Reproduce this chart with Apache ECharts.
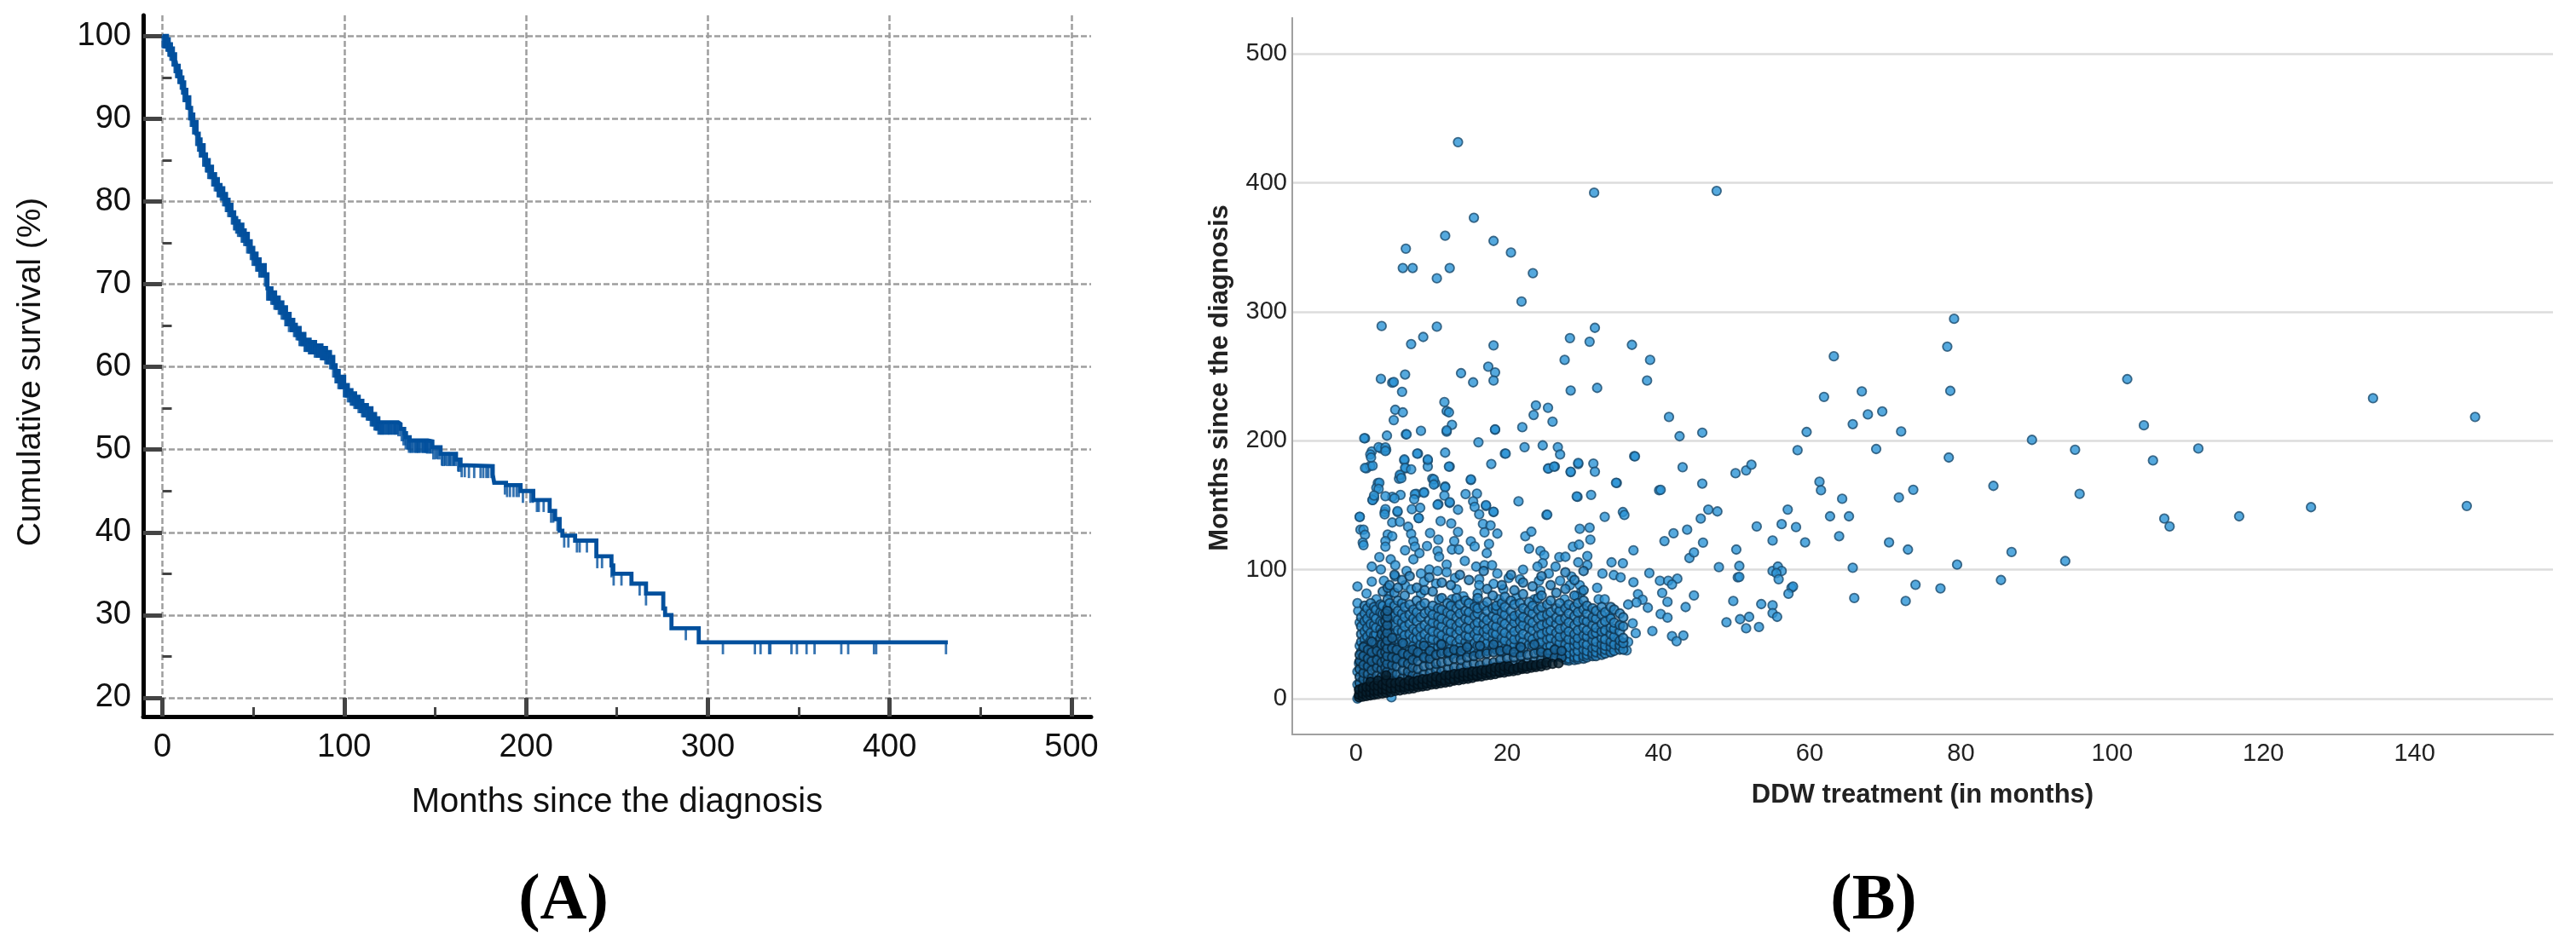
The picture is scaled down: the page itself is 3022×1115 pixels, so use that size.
<!DOCTYPE html>
<html><head><meta charset="utf-8">
<script src="https://cdn.jsdelivr.net/npm/echarts@6/dist/echarts.min.js"></script>
<style>html,body{margin:0;padding:0;background:#fff}#c{width:3022px;height:1115px}</style></head>
<body><div id="c"></div>
<script>
const kmMonths=[0,2.5,3.5,4.7,5.8,7,7.8,9,10,11,12,13.2,14.8,15.8,17,18.8,20,21,22.7,24,25.5,27.3,29,30.5,32,33.5,35,36.4,38,39.5,40.6,42,44,45.3,47,48.6,50,51.8,53.5,56.3,57.8,60,62,64,66,68,70,72,73.4,75.5,78.1,81,84,87.5,90,92.2,94,95.3,97,100,102,104,106,108,110,112.5,115,117,118.8,129.7,131,133,134,136,146,148.5,153,161.5,164,167.5,181.7,182.5,189,197,204,213,216,218.5,220,227,238.7,247,248,258,266,275.5,276.5,280,295,432];
const kmSurvival=[100,99.6,99,98.5,97.8,97,96.4,95.7,95,94.4,93.5,92.6,91.3,90.5,89.6,88.2,87.5,86.8,85.7,85,84.2,83.3,82.7,82,81.6,80.9,80.2,79.6,78.7,78,77.6,77.2,76.5,76.1,75.2,74.4,73.7,73,72.3,71.2,69.5,69,68.4,67.8,67.2,66.4,65.7,65.1,64.7,64,63.3,63,62.6,62.3,61.8,61.2,60.2,59.5,58.8,57.8,57.2,56.8,56.4,55.9,55.4,55,54.3,53.8,53.3,53.1,52.5,52,51.5,51.1,51,50.3,49.5,48.8,48.1,48,47,46,45.7,45,43.9,42.6,41.6,40.2,39.6,39,37.1,36,35,33.8,32.6,30.8,30,28.4,26.7,26.7];
const censorMonths=[147.3,150.8,153.7,155.6,158,160.3,162.7,164.6,166.3,168.6,171.5,175,176.5,178.2,179.3,181,188.4,189.6,191.2,193.1,194.8,196,198.3,202.4,203.8,206,207,209.7,213.8,215,217.3,221,223.3,228,229.5,233.5,239.2,241.8,247,248.2,252.5,262.5,266,287.9,308.3,325.9,329,333.7,334.4,346,349,354.3,358.7,373.4,377.2,391.4,392.6,431];
const censorMonthsCrowded=[0.5,1,1.4,1.8,2.2,2.6,3,3.3,3.7,4,4.4,4.8,5.3,5.6,6,6.2,6.7,7.1,7.4,7.9,8.3,8.7,9.2,9.4,9.9,10.5,10.8,11.2,11.6,12,12.4,12.9,13.6,13.9,14.3,14.7,15.1,15.5,16,16.4,16.9,17.3,17.6,18.2,18.7,19,19.4,20,20.5,21,21.3,21.7,22.2,22.9,23,23.8,24.3,24.7,25,25.6,26.2,26.8,27.2,27.8,28.2,28.6,29.2,29.9,30.3,30.8,31,31.7,32.5,33,33.8,34.4,34.9,35.3,35.7,36,36.6,37.2,37.8,38.6,39,39.9,40,41,41.5,42,42.8,43.4,44,44.5,45.4,46,46.6,47,47.6,48.2,49,49.7,50,50.7,51.4,52,52.4,53.1,53.7,54,55.2,55.8,56.2,56.8,57.4,58,58.5,59,59.6,60.3,61,61.6,62,62.6,63,63.8,64.4,65,65.6,66,66.8,67.4,68,68.4,69,69.6,70,71,71.2,71.8,72.8,73.3,74.2,74.8,75.2,75.8,76.4,77,77.6,78,78.6,79,79.8,80.4,81,81.4,82,82.6,83,83.8,84.2,85,85.6,86,86.8,87.5,88,88.2,89,89.4,90,90.6,91,91.6,92.6,93.2,93.8,94.3,95,95.6,96,96.6,97.2,97.8,98.4,99,99.6,100.2,100.8,101.2,101.8,102.4,103.2,104,104.6,105.4,106,106.6,107,107.6,108.3,109,109.6,110.2,110.8,111,112.2,112.8,113.2,113.8,114.6,115,115.4,116.2,117,117.6,118,118.6,119.2,119.8,120.8,121.4,122,123.4,124,125,125.6,126.8,127.6,128.4,129,130.2,132,133,134.2,135.2,136,137,138.4,139.6,140.4,141,142.4,143.6,144,145,145.6,146,148,149.4,152,154.6,157,159,161,163.4];
const survivalXTicks=[0,100,200,300,400,500];
const survivalXMinor=[50,150,250,350,450];
const survivalYTicks=[20,30,40,50,60,70,80,90,100];
const survivalYMinor=[25,35,45,55,65,75,85,95];
const ddwXTicks=[0,20,40,60,80,100,120,140];
const ddwYTicks=[0,100,200,300,400,500];
// Sparse points read one at a time: [DDW months, months since diagnosis]
const sparsePoints=[[13.5,431.6],[31.5,392.4],[47.7,393.8],[15.6,373],[11.8,359],[18.2,355],[20.5,346],[6.6,349],[6.2,334],[7.5,334],[12.4,334],[10.7,326],[23.4,330],[21.9,308],[3.4,289],[10.7,288.5],[8.9,280.5],[7.3,275],[18.2,274],[28.3,279.6],[31.6,287.6],[30.9,276.8],[36.5,274.4],[38.9,262.7],[27.6,262.7],[38.5,246.7],[31.9,241],[28.4,239],[17.5,257.5],[18.4,253],[18.2,246.7],[13.9,252.4],[15.5,245.3],[6.5,251.4],[3.3,248],[4.8,245],[5,245.6],[6.1,238],[11.7,230],[12,223],[12.3,222],[5.2,224],[6.2,222],[5,216],[12.7,212.4],[12,207],[23.8,227.4],[25.4,225.6],[23.5,220],[26,214.8],[22,210.5],[18.4,208.6],[8.6,207.7],[6.6,205],[1.2,202],[16.2,198.8],[22.3,195],[24.7,196.4],[26.7,195],[3.3,194],[2.1,191.7],[1.9,189.4],[4,193],[8.2,190],[11.8,190.8],[19.7,190],[27,189.4],[36.8,188],[9.5,184.7],[9.5,180],[6.4,184.7],[6.6,178.6],[17.9,182],[12.4,180],[1.4,178.6],[1.9,180.4],[26.3,180],[25.5,178.6],[31.4,182.3],[31.6,176],[29.4,182],[28.4,175.7],[43.2,179.5],[5.9,173],[5.7,170.6],[10.1,170.6],[10.5,167],[15.2,169.6],[34.5,167.3],[45.8,166.8],[40.1,161.6],[40.3,161.9],[2.9,167.3],[2.7,163.5],[11.8,164.5],[8,158.8],[9,160.2],[2.4,155.5],[2.2,154],[4.8,156.5],[5.9,158],[21.5,153],[29.3,156.5],[31.1,158],[12.4,151.8],[10.9,150.8],[17.2,149.4],[18.2,144.7],[25.2,142.4],[35.3,144.7],[35.5,142.4],[32.9,141],[45.6,139.6],[46.6,146.6],[47.8,145.2],[0.5,141],[3.8,144.7],[5.5,144.7],[8.3,140],
[50.2,174.8],[51.6,177],[52.3,181.4],[45.8,206.3],[42.8,203.5],[41.4,218.5],[58.4,192.7],[59.6,206.8],[61.9,234],[63.2,265.5],[66.9,238.3],[65.7,212.9],[67.7,220.4],[69.6,222.7],[72.1,207.2],[68.8,193.6],[78.4,187],[78.6,238.7],[78.2,273],[79.1,294.6],[61.3,168.2],[61.5,161.6],[64.3,155],[62.7,141.4],[65.2,141.4],[57.1,146.6],[56.3,135.3],[58.2,133],[53,133.5],[55.1,122.6],[59.4,121.2],[63.9,126],[50.3,115.6],[50.7,102.9],[50.5,94],[50.7,94.4],[48,102],[55.1,99],[55.8,102.4],[56.3,99],[55.6,97.3],[55.9,92.6],[65.7,101.5],[57.6,86],[57.8,87],[57.2,81.3],[65.9,78],[49.9,75.7],[53.6,73.3],[55.1,72.4],[55.1,66.3],[55.7,63.4],[52,63.4],[50.8,61.6],[49,59.2],[51.6,54.5],[53.3,55.5],[70.5,121.2],[73,115.6],[71.8,156],[73.7,162],[79.5,103.9],[74,88.3],[77.3,85.5],[72.7,75.7],[84.3,165],[86.7,113.7],[85.3,92],[93.8,106.7],[89.4,200.7],[95.1,193],[95.7,158.8],[102,247.8],[104.2,212],[105.4,184.7],[111.4,194],[106.9,139.6],[107.6,133.5],[116.8,141.4],[126.3,148.5],[134.5,233],[146.9,149.4],[148,218.5],
[36.9,187.9],[34.4,167.4],[29.2,156.8],[25.3,142.7],[44.1,109],[43.8,131],[42,128.2],[40.8,122.2],[45.9,121],[44.7,113.4],[29.6,131.7],[30.9,132.6],[31,123.3],[28.7,117.8],[29.5,119.4],[22.4,126],[23.2,129.5],[22.9,116.3],[24.4,114.5],[24.9,111.2],[24.7,105],[26.9,109.7],[27.7,110],[29.4,105.7],[30.6,110.6],[30.6,103.5],[36.7,115],[33.8,105.7],[35.3,105],[32.6,97],[34.1,95.8],[35,94],[38.8,97.4],[36.7,90.3],[40.2,91.4],[41.3,91.4],[42.5,93],[41.8,88.5],[40.5,82],[44.7,80],[41.2,75],[37.3,81],[37.9,76.7],[37.1,74.5],[36,73],[38.6,70.5],[43.6,71],[40.3,65.6],[41.2,62.8],[36.6,58.4],[37,50.7],[39.2,52.4],[33.6,64],[41.8,48.5],[43.3,49],[42.4,44.5],[35.8,37.4],[36,44],[34.3,46.3],[33.6,36.3],[31.9,86],[32.1,77],[32.9,77],[0.2,0],[0.2,11],[0.2,21],[0.4,27.5],[0.5,41],[0.5,59],[0.3,68],[0.2,74],[0.2,87],[0.5,141],[0.6,131],[1,131],[1.2,127],[0.9,121],[1,119],[4.7,1],
[2.2,154],[1.2,178.9],[2.2,180.6],[2,187],[3,195],[3.9,194.8],[3.9,192],[1.1,202],[4.1,204],[6.7,205],[12,208],[18.4,208.8],[6.4,185.5],[6.5,179],[7.3,177.8],[5.8,173.6],[6,171],[8.1,190],[9.5,185.5],[12.3,180],[19.8,190],[25.4,178.4],[26.2,180],[28.4,176],[29.4,182.8],[10.3,170],[10.3,166],[15.2,170],[11.8,164],[11.7,157.5],[12.4,152.4],[14.5,158.6],[16,159],[15.5,153],[17.2,150],[18.2,145],[15.7,148.7],[16.3,143],[16.8,135.5],[17.8,134.4],[17,128.9],[18.7,128],[17.6,120],[15.2,122],[15.7,118],[17.3,112.8],[3.1,167.4],[3,162.6],[2.4,157.5],[3.9,157],[5.1,155.3],[7.8,158.6],[9,159.7],[7.7,154.6],[3.9,146.9],[3.8,143],[5.5,145.4],[7.4,146.9],[8.5,148],[8.3,140],[10.8,150.4],[13.5,146.5],[4.8,136.6],[5.8,137.2],[6.9,133.3],[7.3,127.8],[7.6,122.2],[7.8,117.8],[9.8,128.4],[11.2,137.7],[12.6,135.9],[13.5,129.3],[10.9,123.3],[9.4,118.3],[13,122.2],[12.7,115.6],[13.6,115.6],[10.8,114.5],[11,110],[14.4,106.8],[4.2,127.3],[4.8,126],[3.9,122.2],[3.9,117.8],[6.5,115],[8.4,112.8],[3.1,109.7],[4.6,108],[7.6,108],[12,104],[2.1,102.4],[3.3,100.2],[5.2,103.5],[6.7,99],[8.6,97],[9.7,100.2],[10.8,99],[2.1,90.7],[3.7,91.4],[5.2,94.7],[6.5,88],[9,90.7],[10.6,89.2],[7.3,84.8],[8.6,81.5],[1.4,81.5],[2.7,77],[4.4,81.5],[12,98],[13.1,93.6],[13.3,84.8],[15.9,102.4],[17,103.5],[18,103.5],[18.7,97],[16.3,92.5],[16.3,88],[18.2,89],[16.1,81.5],[14.2,79.3],[19.5,84.8],[20.2,93.6],[21.7,92.5],[22.1,100],[24.2,91.4],[24,102.4],[25.5,97],[26.4,102.4],[27,91.4],[28.5,94.7],[28.3,88],[29.6,88],[29.8,82.6],[29.2,79.3],[24.4,83.7],[23.6,77],[27.6,77],[21.2,78.2],[18.9,77],[15.7,73.8],[12.7,77],[11,77]];
// Crowded lower wedge, read as columns: a month, then the diagnosis months seen stacked at it
const denseColumns=[
[0.7,[27,36,44,50,56,63,30]],[1.15,[25,32,39,46,52,60,66,72,41]],[1.5,[28,35,41,48,55,62,70,33]],[1.95,[27,33,38,45,51,58,66,74]],[2.4,[30,36,43,49,57,64,71,25]],[2.65,[31,37,42,50,55,62,69]],[3.25,[29,35,40,47,54,60,67,73]],[3.55,[32,38,44,52,59,66,72,83]],[4.2,[30,36,41,48,56,63,70,77,86,44,54]],[4.45,[28,33,39,45,51,58,65,74,88]],[5.1,[31,37,43,50,57,64,72,82,96]],[5.55,[34,40,46,53,61,68,76,86]],[6.1,[33,38,45,52,59,66,74,92,29]],[6.45,[35,42,49,56,63,71,80]],[7.1,[37,44,50,58,65,73,95,31]],[7.6,[36,41,47,54,62,69]],[8.05,[39,46,52,60,67,76,86,33]],[8.55,[35,42,48,55,63,72]],[9.1,[37,44,50,57,66,74,84,31]],[9.7,[36,41,47,54,61,68,94]],[10.15,[39,46,52,59,65,72,83,34]],[10.9,[40,45,51,58,64,70]],[11.35,[37,43,49,56,62,69,78,90]],[12.1,[35,41,47,53,60,67,74]],[12.55,[34,39,45,52,58,65,72,88]],[13.3,[37,43,50,56,63,70,78]],[13.75,[34,40,46,53,59,66,73,96]],[14.5,[38,44,49,55,62,68,76]],[14.95,[36,42,48,54,61,67,74,92]],[15.7,[37,43,50,57,64,71]],[16.1,[35,41,47,53,59,66,70,78]],[16.9,[39,45,52,58,63,72,99]],[17.35,[37,43,49,54,61,68,75,85]],[18.1,[40,46,51,57,64,70,80]],[18.55,[38,44,50,56,62,69,72]],[19.3,[36,42,47,53,60,67,74,88]],[19.7,[39,45,51,58,65,71,79]],[20.5,[37,43,49,55,62,68,76,96]],[20.95,[41,46,52,59,64,73,84]],[21.7,[36,40,47,54,60,66,74]],[22.1,[38,44,50,57,63,70,81,90]],[22.9,[42,48,55,61,68,75]],[23.35,[41,46,53,59,66,72,87]],[24.1,[37,43,49,55,62,69,78]],[24.55,[39,44,50,57,64,71,80,95]],[25.3,[40,46,52,58,65,73,35]],[25.75,[36,41,47,53,60,67,76,88]],[26.5,[35,39,45,51,58,63,70,82]],[26.95,[33,38,43,48,54,61,68,74]],[27.7,[30,34,37,42,49,55,62,70,85,98]],[28.15,[29.5,31,35,40,46,52,59,66,73]],[28.9,[30,32,36,41,45,50,57,64,71,80,92]],[29.35,[30.5,32,37,42,47,53,60,67,74]],[30.1,[31,33,38,43,49,55,61,69,76,84,99]],[30.55,[32,34,37,42,48,53,60,66,72]],[31.3,[33,35,39,45,50,57,63,70]],[31.75,[33,36,40,44,51,55,62,68]],[32.5,[34,37,42,47,52,58,65,71]],[32.95,[35,38,41,46,53,60,67]],[33.7,[36,40,44,50,55,62,71]],[34.15,[37,42,48,54,59,69]],[34.9,[38,41,45,52,57,66]],[35.35,[38,43,47,56,63]]];
// Next band above the edge, where the marks pile up and read darker
const crowdedColumns=[
[0.5,[3,7,12,17,23,29,34]],[1,[4,9,15,20,26,33,40]],[1.6,[5,10,14,19,25,31,38]],[2.1,[6,11,16,22,29,36,44]],[2.8,[7,12,18,24,30,37]],[3.4,[8,13,17,23,28,35,42,50]],[3.9,[8,10,14,19,24,30,36,42,48,54,60,66]],[4.15,[7,12,16,21,27,33,39,45,51,57,63,68]],[4.8,[10,15,20,26,32,39,47]],[5.4,[11,14,19,25,31,38]],[6.2,[11,16,22,28,35,43]],[6.9,[12,17,21,27,34]],[7.5,[13,18,24,30,38]],[8.2,[14,17,23,29,36]],[9,[15,19,25,32,41]],[9.8,[15,20,26,31,37]],[10.6,[16,22,27,34]],[11.3,[17,21,28,35,42]],[12.2,[18,23,29,36]],[13,[19,24,31,38]],[13.9,[20,24,30,37]],[14.7,[21,26,32,40]],[15.6,[21,27,33]],[16.4,[22,26,34,41]],[17.3,[23,28,35]],[18.2,[24,28,36,42]],[19.1,[25,30,37]],[20,[26,31,38]],[20.9,[26,32,36]],[21.8,[27,33,40]],[22.7,[28,34]],[23.6,[29,35,42]],[24.5,[30,36]],[25.4,[31,35]],[26.3,[32,38]],[27.2,[32,37]]];
// Very edge of the wedge, right on the diagonal
const edgeColumns=[
[0.4,[1,3,7]],[0.9,[1.5,4,8]],[1.4,[2,5,9]],[1.9,[2.5,5,9,13]],[2.4,[3,6,10]],[2.9,[3.5,6,10,14]],[3.5,[4,7,11]],[4,[4.5,7,10,14,18]],[4.6,[5,8,12]],[5.2,[6,8,12]],[5.8,[6.3,9,13]],[6.4,[7,9,12]],[7,[7.5,10,14]],[7.6,[8,10,13]],[8.2,[9,11,14]],[8.8,[9.4,11,15]],[9.4,[10,12,15]],[10,[11,13,16]],[10.6,[11.2,13,17]],[11.2,[12,14,16]],[11.8,[12.4,14,18]],[12.4,[13,15,18]],[13,[14,15,19]],[13.6,[14.2,16,19]],[14.2,[15,17,20]],[14.8,[15.4,17,20]],[15.4,[16,18,21]],[16,[17,18,21]],[16.6,[17.2,19,22]],[17.2,[18,20,22]],[17.8,[18.4,20,23]],[18.4,[19,21,24]],[19,[20,21,24]],[19.6,[20.2,22,25]],[20.2,[21,23,25]],[20.8,[21.4,23]],[21.4,[22,24]],[22,[23,24,26]],[22.6,[23.2,25]],[23.2,[24,26]],[23.8,[24.5,26]],[24.5,[25,27]],[25.2,[26,28]],[26,[27]],[26.8,[27.5]]];
const ddwDense=denseColumns.flatMap(c=>c[1].map(y=>[c[0],y]));
const ddwCrowded=crowdedColumns.flatMap(c=>c[1].map(y=>[c[0],y]));
const ddwEdge=edgeColumns.flatMap(c=>c[1].map(y=>[c[0],y]));
function survivalAt(t){let s=kmSurvival[0];for(let i=0;i<kmMonths.length;i++){if(kmMonths[i]<=t)s=kmSurvival[i];}return s;}
const blue='#02509d';
const sans='"Liberation Sans",Arial,sans-serif';
const chart=echarts.init(document.getElementById('c'),null,{renderer:'canvas'});
const dot=(data,fill,border,z,bw)=>({type:'scatter',xAxisIndex:2,yAxisIndex:2,symbol:'circle',symbolSize:10.5,silent:true,large:false,itemStyle:{color:fill,borderColor:border,borderWidth:bw},data,z});
const rule=(months,size,offset)=>({type:'scatter',xAxisIndex:0,yAxisIndex:0,symbol:'rect',symbolSize:size,symbolOffset:offset,silent:true,itemStyle:{color:blue},data:months.map(m=>[m,survivalAt(m)]),z:5});
chart.setOption({animation:false,backgroundColor:'#fff',
grid:[{left:168,top:18,width:1112,height:823},{left:1516,top:21,width:1479,height:841}],
xAxis:[
{gridIndex:0,type:'value',min:-10.55,max:510.8,name:'Months since the diagnosis',nameLocation:'middle',nameGap:81,nameTextStyle:{fontFamily:sans,fontSize:40,color:'#111'},
 axisLine:{show:true,onZero:false,lineStyle:{color:'#000',width:5}},
 axisTick:{show:true,inside:true,length:22,customValues:survivalXTicks,lineStyle:{color:'#444',width:5}},
 axisLabel:{show:true,customValues:survivalXTicks,margin:18,fontFamily:sans,fontSize:38,color:'#111'},
 splitLine:{show:true,lineStyle:{color:'#9e9e9e',width:2.5,type:[7,3]}}},
{gridIndex:0,type:'value',min:-10.55,max:510.8,axisLine:{show:false},
 axisTick:{show:true,inside:true,length:11,customValues:survivalXMinor,lineStyle:{color:'#444',width:3}},
 axisLabel:{show:false},splitLine:{show:false},position:'bottom'},
{gridIndex:1,type:'value',min:-8.42,max:158.3,name:'DDW treatment (in months)',nameLocation:'middle',nameGap:56,nameTextStyle:{fontFamily:sans,fontSize:31,fontWeight:'bold',color:'#222'},
 axisLine:{show:true,onZero:false,lineStyle:{color:'#a0a0a0',width:2}},axisTick:{show:false,customValues:ddwXTicks},
 axisLabel:{show:true,customValues:ddwXTicks,margin:8,fontFamily:sans,fontSize:29,color:'#222'},splitLine:{show:false}}],
yAxis:[
{gridIndex:0,type:'value',min:17.73,max:102.5,name:'Cumulative survival (%)',nameLocation:'middle',nameGap:112,nameTextStyle:{fontFamily:sans,fontSize:39,color:'#111',padding:[0,14,0,0]},
 axisLine:{show:true,onZero:false,lineStyle:{color:'#000',width:5}},
 axisTick:{show:true,inside:true,length:22,customValues:survivalYTicks,lineStyle:{color:'#444',width:5}},
 axisLabel:{show:true,customValues:survivalYTicks,margin:14,fontFamily:sans,fontSize:38,color:'#111'},
 splitLine:{show:true,lineStyle:{color:'#9e9e9e',width:2.5,type:[7,3]}}},
{gridIndex:0,type:'value',min:17.73,max:102.5,position:'left',axisLine:{show:false},
 axisTick:{show:true,inside:true,length:11,customValues:survivalYMinor,lineStyle:{color:'#444',width:3}},
 axisLabel:{show:false},splitLine:{show:false}},
{gridIndex:1,type:'value',min:-27.8,max:528,name:'Months since the diagnosis',nameLocation:'middle',nameGap:69,nameTextStyle:{fontFamily:sans,fontSize:31,fontWeight:'bold',color:'#222',padding:[0,4,0,0]},
 axisLine:{show:true,onZero:false,lineStyle:{color:'#a0a0a0',width:2}},axisTick:{show:false,customValues:ddwYTicks},
 axisLabel:{show:true,customValues:ddwYTicks,margin:6,fontFamily:sans,fontSize:29,color:'#222'},
 splitLine:{show:true,lineStyle:{color:'#dcdcdc',width:2.5}}}],
series:[
{type:'line',xAxisIndex:0,yAxisIndex:0,step:'end',symbol:'none',silent:true,lineStyle:{color:blue,width:4.8,join:'miter'},data:kmMonths.map((m,i)=>[m,kmSurvival[i]]),z:5},
rule(censorMonths,[2.8,14],[0,7]),
rule(censorMonthsCrowded,[4.4,15],[0,7]),
dot(sparsePoints,'#2b93d6','#1a4b6e',5,1.8),
dot(ddwDense,'#2583c2','#0f3550',6,2),
dot(ddwCrowded,'#1c659a','#0a2538',7,2),
dot(ddwEdge,'#07202f','#03101a',8,1.8)],
graphic:[
{type:'text',style:{text:'(A)',x:661,y:1058,align:'center',verticalAlign:'middle',fontFamily:'"Liberation Serif",serif',fontWeight:'bold',fontSize:76,fill:'#000'}},
{type:'text',style:{text:'(B)',x:2198,y:1058,align:'center',verticalAlign:'middle',fontFamily:'"Liberation Serif",serif',fontWeight:'bold',fontSize:76,fill:'#000'}}]
});
</script></body></html>
